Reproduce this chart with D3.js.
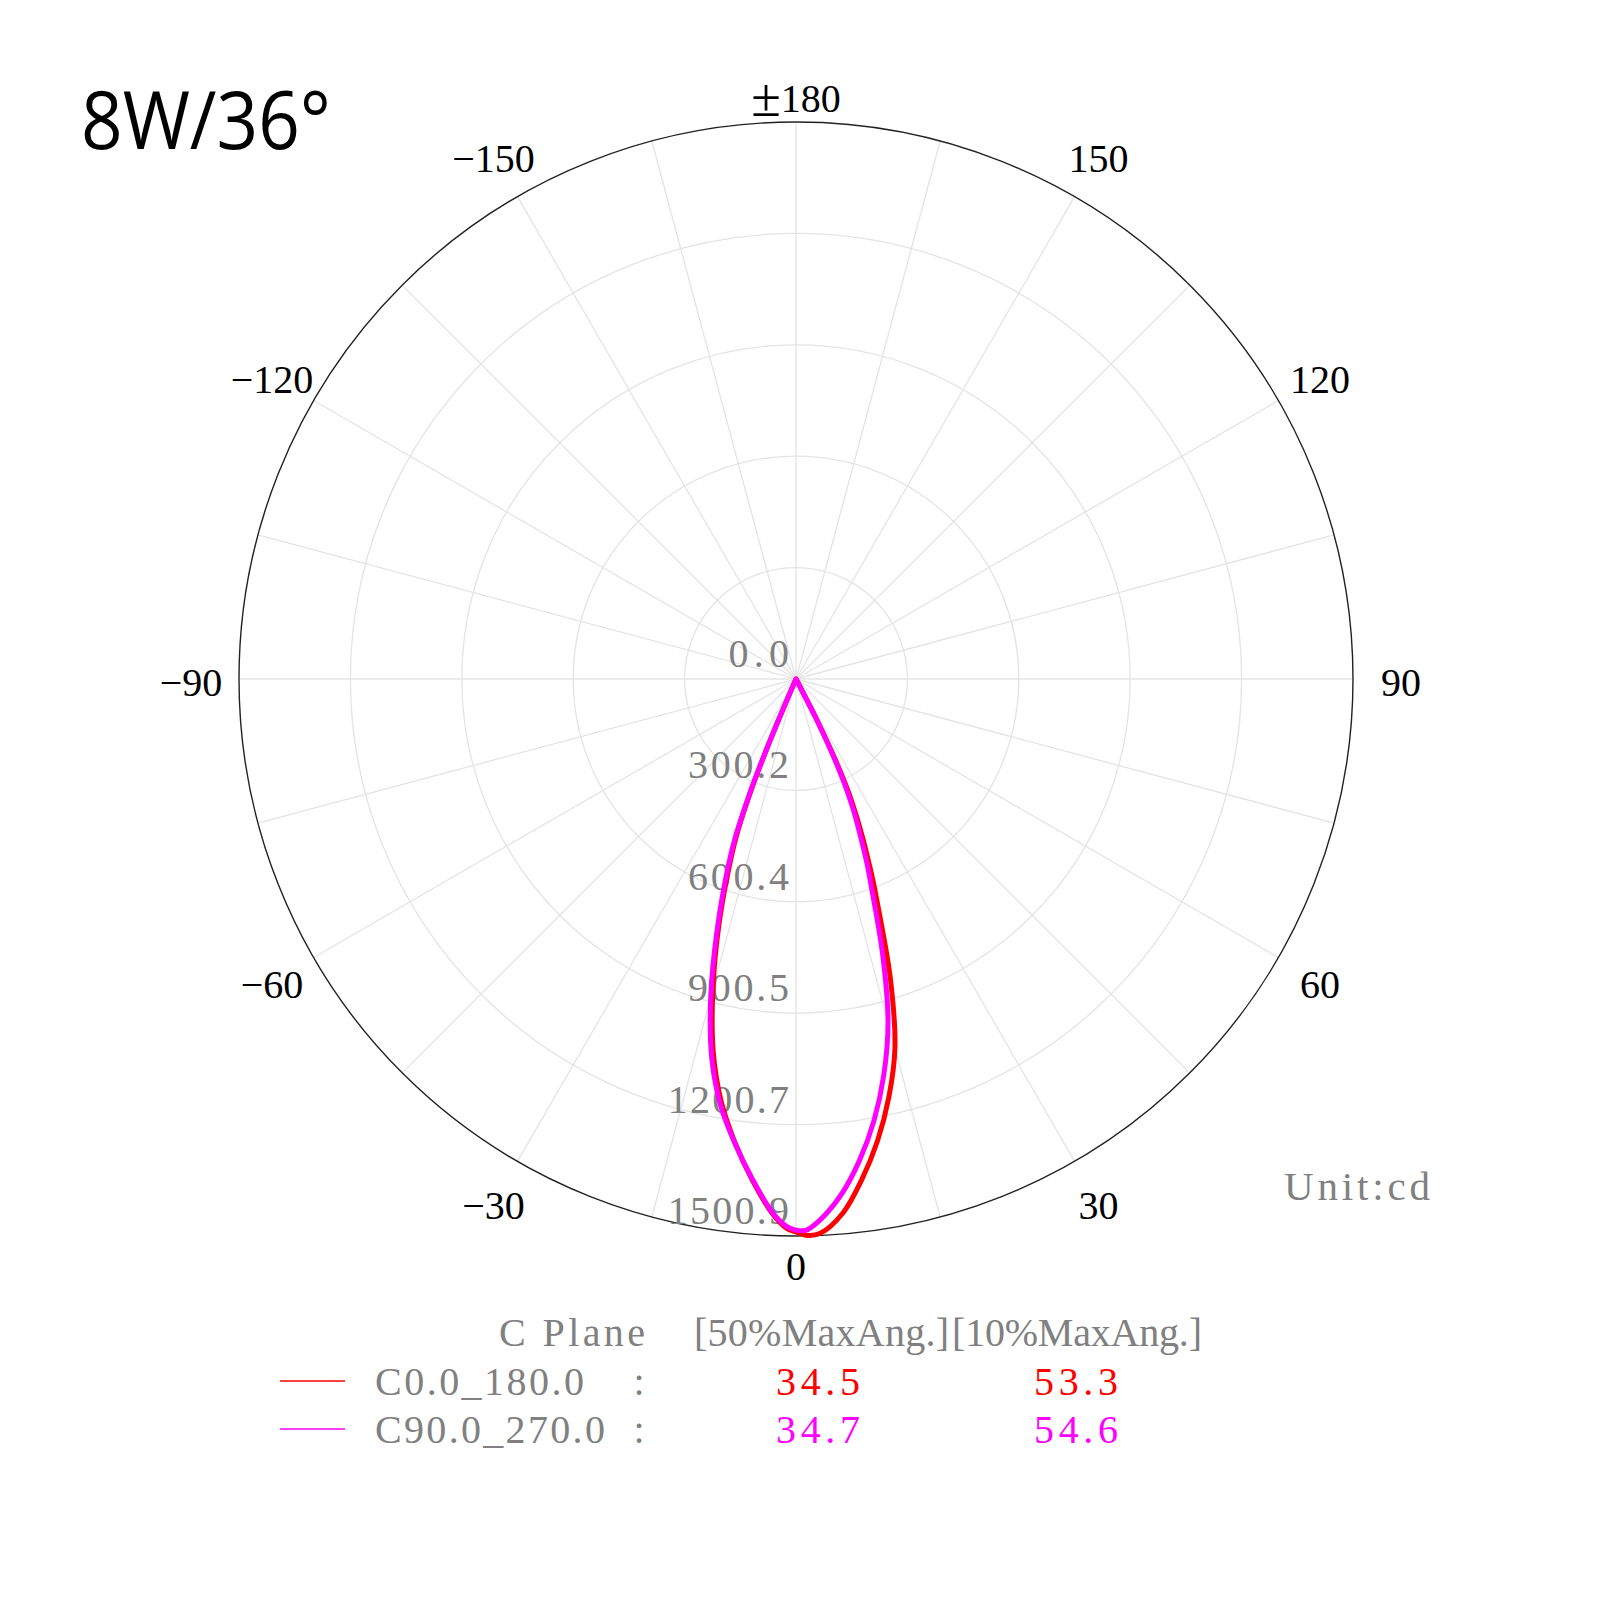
<!DOCTYPE html>
<html>
<head>
<meta charset="utf-8">
<script src="https://cdn.jsdelivr.net/npm/d3@7/dist/d3.min.js"></script>
<style>
  html, body { margin: 0; padding: 0; background: #ffffff; }
  svg { display: block; }
</style>
</head>
<body>
<svg id="chart" width="1600" height="1600"></svg>
<script>
// ---------------- data ----------------
const title = "8W/36°";
const unitLabel = "Unit:cd";
const maxValue = 1500.9;
const ringLabels = ["0.0", "300.2", "600.4", "900.5", "1200.7", "1500.9"];
const ringValues = [0, 300.2, 600.4, 900.5, 1200.7, 1500.9];
const angleTicks = [0, 30, 60, 90, 120, 150, 180, -150, -120, -90, -60, -30];
const angleTickLabels = ["0", "30", "60", "90", "120", "150", "±180", "−150", "−120", "−90", "−60", "−30"];

// gamma angles (deg) from nadir
const gammas = [0, 1, 2.5, 5, 7.5, 10, 12.5, 15, 17.5, 20, 21, 22, 22.5, 23, 23.5, 24, 25, 26, 27, 28, 30, 45, 60, 75, 90, 105, 120, 135, 150, 165, 180];
// candela values for each half plane
const c0   = [1490, 1499, 1495, 1445, 1360, 1264, 1155, 1030, 845, 640, 575, 510, 480, 450, 422, 392, 327, 240, 130, 0, 0, 0, 0, 0, 0, 0, 0, 0, 0, 0, 0];
const c180 = [1490, 1480, 1443, 1355, 1260, 1158, 1030, 865, 688, 510, 435, 320, 240, 140, 50, 0, 0, 0, 0, 0, 0, 0, 0, 0, 0, 0, 0, 0, 0, 0, 0];
const c90  = [1485, 1486, 1460, 1395, 1309, 1209, 1093, 958, 775, 591, 535, 475, 447, 420, 395, 365, 300, 215, 115, 0, 0, 0, 0, 0, 0, 0, 0, 0, 0, 0, 0];
const c270 = [1485, 1475, 1440, 1352, 1262, 1168, 1048, 888, 705, 530, 455, 335, 255, 150, 55, 0, 0, 0, 0, 0, 0, 0, 0, 0, 0, 0, 0, 0, 0, 0, 0];

const seriesNames = ["C0.0_180.0", "C90.0_270.0"];
const seriesColors = ["#ff0000", "#ff00ff"];
const beam50 = ["34.5", "34.7"];
const beam10 = ["53.3", "54.6"];
const legendHeaders = ["C Plane", "[50%MaxAng.]", "[10%MaxAng.]"];

// ---------------- layout ----------------
const cx = 796, cy = 679, R = 557;
const svg = d3.select("#chart");
const g = svg.append("g").attr("transform", `translate(${cx},${cy})`);

const rScale = d3.scaleLinear().domain([0, maxValue]).range([0, R]);
// gamma (signed) -> d3 radial angle (0 at top, clockwise)
const aScale = d3.scaleLinear().domain([-180, 180]).range([2 * Math.PI, 0]);

const serif = "'Liberation Serif', 'DejaVu Serif', serif";

// spokes every 15 deg
const spokes = d3.range(-180, 180, 15);
g.selectAll("line.spoke").data(spokes).join("line")
  .attr("class", "spoke")
  .attr("x1", 0).attr("y1", 0)
  .attr("x2", d => R * Math.sin(aScale(d)))
  .attr("y2", d => -R * Math.cos(aScale(d)))
  .attr("stroke", "#e4e4e4").attr("stroke-width", 1.3);

// rings
g.selectAll("circle.ring").data(ringValues.slice(1, -1)).join("circle")
  .attr("class", "ring")
  .attr("r", d => rScale(d))
  .attr("fill", "none").attr("stroke", "#e4e4e4").attr("stroke-width", 1.3);

g.append("circle").attr("r", rScale(maxValue))
  .attr("fill", "none").attr("stroke", "#222").attr("stroke-width", 1.4);

// ring labels
g.selectAll("text.rlab").data(ringLabels).join("text")
  .attr("class", "rlab")
  .attr("x", -7)
  .attr("y", (d, i) => rScale(ringValues[i]) - 12)
  .attr("text-anchor", "end")
  .attr("font-family", serif)
  .attr("font-size", 40)
  .attr("fill", "#808080")
  .attr("textLength", d => d.length * 20.2)
  .attr("lengthAdjust", "spacing")
  .text(d => d);

// angle labels
const alab = g.selectAll("text.alab").data(angleTicks).join("text")
  .attr("class", "alab")
  .attr("x", d => {
    const dist = (Math.abs(d) === 0 || Math.abs(d) === 180) ? 584 : 605;
    return dist * Math.sin(aScale(d));
  })
  .attr("y", d => {
    const dist = (Math.abs(d) === 0 || Math.abs(d) === 180) ? 584 : 605;
    return -dist * Math.cos(aScale(d)) + 3;
  })
  .attr("text-anchor", "middle")
  .attr("dominant-baseline", "central")
  .attr("font-family", serif)
  .attr("font-size", 40)
  .attr("fill", "#000");
alab.each(function (d, i) {
  const t = d3.select(this);
  const lab = angleTickLabels[i];
  if (lab.startsWith("±")) {
    t.append("tspan").attr("font-size", 54).text("±");
    t.append("tspan").text(lab.slice(1));
  } else {
    t.text(lab);
  }
});

// curves
function loop(right, left) {
  const pts = [];
  gammas.forEach((gm, i) => pts.push([gm, right[i]]));
  // left half-plane, skip nadir (shared with right) to avoid duplicate point
  for (let i = gammas.length - 1; i >= 1; i--) pts.push([-gammas[i], left[i]]);
  return pts;
}
const line = d3.lineRadial()
  .angle(d => aScale(d[0]))
  .radius(d => rScale(d[1]))
  .curve(d3.curveCatmullRomClosed.alpha(0.5));

const curves = [loop(c0, c180), loop(c90, c270)];
g.selectAll("path.curve").data(curves).join("path")
  .attr("class", "curve")
  .attr("d", d => line(d))
  .attr("fill", "none")
  .attr("stroke", (d, i) => seriesColors[i])
  .attr("stroke-width", 5)
  .attr("stroke-linejoin", "round");

// title
svg.append("text")
  .attr("x", 81).attr("y", 149)
  .attr("font-family", "'Open Sans', sans-serif")
  .attr("font-size", 81)
  .attr("fill", "#000")
  .attr("textLength", 250)
  .attr("lengthAdjust", "spacingAndGlyphs")
  .text(title);

// unit
svg.append("text")
  .attr("x", 1284).attr("y", 1200)
  .attr("font-family", serif)
  .attr("font-size", 41)
  .attr("fill", "#808080")
  .attr("textLength", 146)
  .attr("lengthAdjust", "spacing")
  .text(unitLabel);

// legend header
const headerX = [499, 694, 952];
const headerW = [146, 255, 250];
legendHeaders.forEach((h, i) => {
  svg.append("text")
    .attr("x", headerX[i]).attr("y", 1346)
    .attr("font-family", serif)
    .attr("font-size", 40)
    .attr("fill", "#808080")
    .attr("textLength", headerW[i])
    .attr("lengthAdjust", "spacing")
    .text(h);
});

const rowY = [1381, 1429];
seriesNames.forEach((name, i) => {
  svg.append("line")
    .attr("x1", 280).attr("x2", 345)
    .attr("y1", rowY[i]).attr("y2", rowY[i])
    .attr("stroke", seriesColors[i]).attr("stroke-width", 1.5);
  svg.append("text")
    .attr("x", 375).attr("y", rowY[i] + 14)
    .attr("font-family", serif)
    .attr("font-size", 40)
    .attr("fill", "#808080")
    .attr("textLength", name.length * 20.9)
    .attr("lengthAdjust", "spacing")
    .text(name);
  svg.append("text")
    .attr("x", 639).attr("y", rowY[i] + 14)
    .attr("text-anchor", "middle")
    .attr("font-family", serif)
    .attr("font-size", 40)
    .attr("fill", "#808080")
    .text(":");
  svg.append("text")
    .attr("x", 776).attr("y", rowY[i] + 14)
    .attr("font-family", serif)
    .attr("font-size", 40)
    .attr("fill", seriesColors[i])
    .attr("textLength", 84)
    .attr("lengthAdjust", "spacing")
    .text(beam50[i]);
  svg.append("text")
    .attr("x", 1034).attr("y", rowY[i] + 14)
    .attr("font-family", serif)
    .attr("font-size", 40)
    .attr("fill", seriesColors[i])
    .attr("textLength", 84)
    .attr("lengthAdjust", "spacing")
    .text(beam10[i]);
});
</script>
</body>
</html>
